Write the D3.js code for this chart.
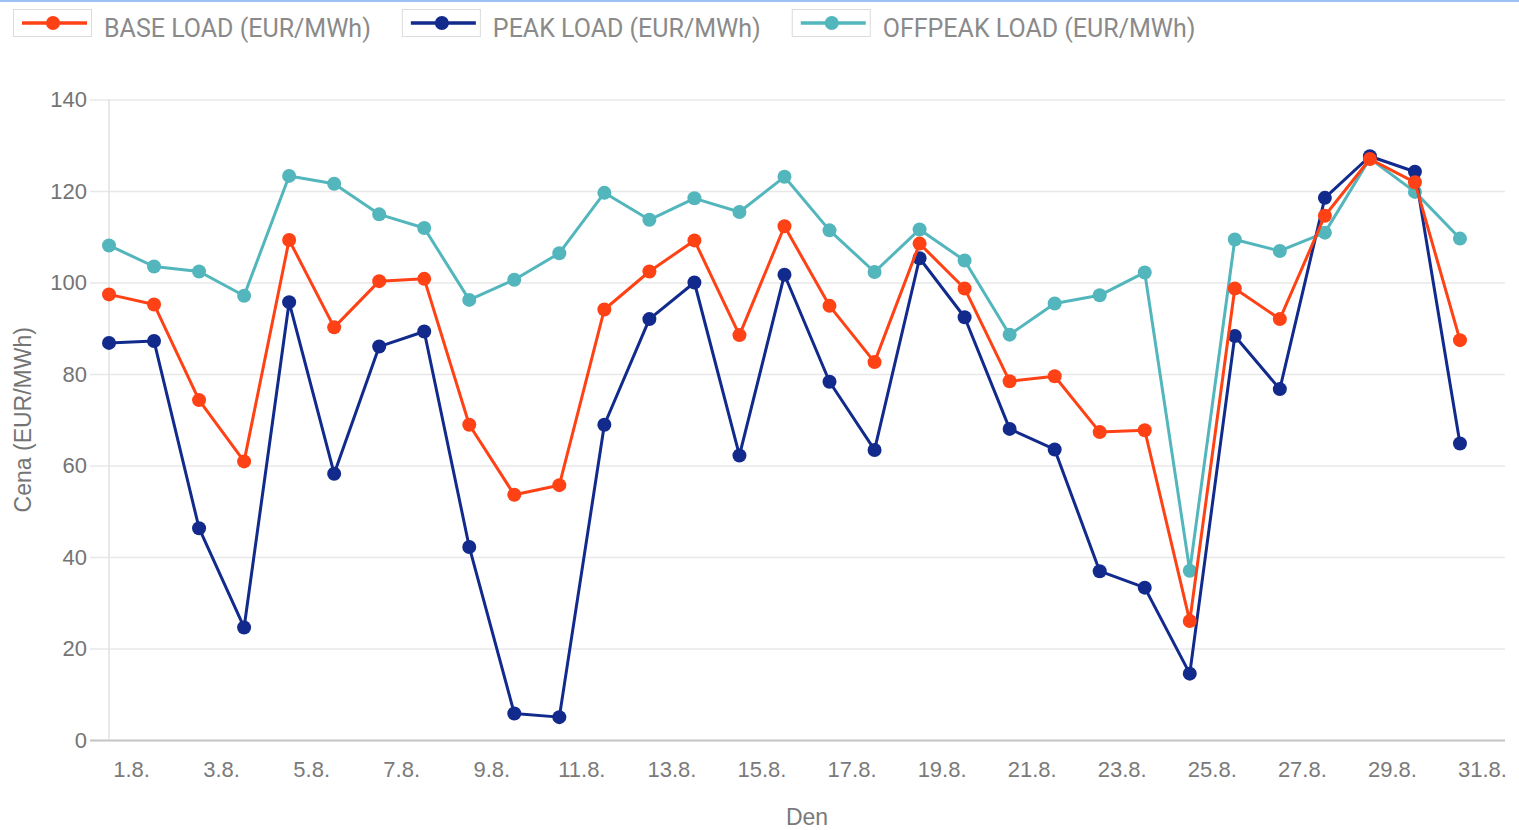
<!DOCTYPE html>
<html>
<head>
<meta charset="utf-8">
<script src="https://cdn.jsdelivr.net/npm/d3@7"></script>
<style>
  html, body { margin: 0; padding: 0; background: #fff; }
  svg { display: block; }
</style>
</head>
<body>
<svg id="chart" width="1519" height="830"></svg>
<script>
const days = ["1.8.","2.8.","3.8.","4.8.","5.8.","6.8.","7.8.","8.8.","9.8.","10.8.","11.8.","12.8.","13.8.","14.8.","15.8.","16.8.","17.8.","18.8.","19.8.","20.8.","21.8.","22.8.","23.8.","24.8.","25.8.","26.8.","27.8.","28.8.","29.8.","30.8.","31.8."];
const baseLoad = [97.4, 95.2, 74.3, 60.9, 109.3, 90.2, 100.3, 100.8, 68.9, 53.6, 55.7, 94.1, 102.4, 109.2, 88.5, 112.3, 94.9, 82.6, 108.5, 98.7, 78.4, 79.5, 67.3, 67.7, 26.0, 98.7, 92.0, 114.6, 127.0, 121.9, 87.4];
const peakLoad = [86.8, 87.2, 46.3, 24.6, 95.7, 58.2, 86.0, 89.3, 42.2, 5.8, 5.0, 68.9, 92.0, 100.0, 62.2, 101.7, 78.3, 63.4, 105.3, 92.4, 68.0, 63.5, 36.9, 33.3, 14.5, 88.3, 76.7, 118.5, 127.6, 124.2, 64.8];
const offpeakLoad = [108.1, 103.5, 102.4, 97.1, 123.3, 121.6, 114.9, 111.9, 96.2, 100.6, 106.4, 119.6, 113.7, 118.4, 115.4, 123.1, 111.4, 102.3, 111.6, 104.8, 88.6, 95.4, 97.2, 102.2, 37.0, 109.4, 106.9, 110.9, 127.1, 119.8, 109.6];
const seriesNames = ["BASE LOAD (EUR/MWh)", "PEAK LOAD (EUR/MWh)", "OFFPEAK LOAD (EUR/MWh)"];
const seriesColors = ["#ff4215", "#112a8c", "#52b6bc"];
const yTicks = [0, 20, 40, 60, 80, 100, 120, 140];
const xTickLabels = days.filter((d, i) => i % 2 === 0);
const yTitle = "Cena (EUR/MWh)";
const xTitle = "Den";

const series = [
  { name: seriesNames[0], color: seriesColors[0], values: baseLoad },
  { name: seriesNames[1], color: seriesColors[1], values: peakLoad },
  { name: seriesNames[2], color: seriesColors[2], values: offpeakLoad }
];

const svg = d3.select("#chart");
const plotLeft = 109, plotRight = 1505, plotTop = 99.5, plotBottom = 740;

const x = d3.scaleBand().domain(days).range([plotLeft, plotRight]).paddingInner(0).paddingOuter(0);
const y = d3.scaleLinear().domain([0, 140]).range([plotBottom, plotTop]);

// top border
svg.append("rect").attr("x", 0).attr("y", 0).attr("width", 1519).attr("height", 2).attr("fill", "#9cc2f5");

// y grid + labels
const gridLeft = 90;
const yAxis = svg.append("g")
  .attr("transform", `translate(${gridLeft},0)`)
  .call(d3.axisLeft(y).tickValues(yTicks).tickSize(-(plotRight - gridLeft)).tickPadding(3));
yAxis.select(".domain").remove();
yAxis.selectAll(".tick line")
  .attr("stroke", d => d === 0 ? "#c4c4c4" : "#e8e8e8")
  .attr("stroke-width", d => d === 0 ? 2 : 1.5);
yAxis.selectAll(".tick text")
  .attr("font-family", "'Liberation Sans', Arial, sans-serif")
  .attr("font-size", 22)
  .attr("fill", "#747474");

// left vertical line
svg.append("line")
  .attr("x1", plotLeft).attr("x2", plotLeft)
  .attr("y1", plotTop).attr("y2", plotBottom)
  .attr("stroke", "#e2e2e2").attr("stroke-width", 1.5);

// x labels
const xAxis = svg.append("g")
  .attr("transform", `translate(0,${plotBottom})`)
  .call(d3.axisBottom(x).tickValues(xTickLabels).tickSize(0).tickPadding(21));
xAxis.select(".domain").remove();
xAxis.selectAll(".tick text")
  .attr("font-family", "'Liberation Sans', Arial, sans-serif")
  .attr("font-size", 22)
  .attr("fill", "#7a7a7a");

// axis titles
svg.append("text")
  .attr("transform", `translate(31,${(plotTop + plotBottom) / 2}) rotate(-90)`)
  .attr("text-anchor", "middle")
  .attr("font-family", "'Liberation Sans', Arial, sans-serif")
  .attr("font-size", 23)
  .attr("fill", "#747474")
  .text(yTitle);
svg.append("text")
  .attr("x", 807).attr("y", 825)
  .attr("text-anchor", "middle")
  .attr("font-family", "'Liberation Sans', Arial, sans-serif")
  .attr("font-size", 23)
  .attr("fill", "#7a7a7a")
  .text(xTitle);

// lines (draw last series first so base is on top)
const line = d3.line().x((v, i) => x(days[i])).y(v => y(v));
const drawOrder = [2, 1, 0];
drawOrder.forEach(si => {
  const s = series[si];
  const g = svg.append("g");
  g.append("path")
    .attr("d", line(s.values))
    .attr("fill", "none")
    .attr("stroke", s.color)
    .attr("stroke-width", 3)
    .attr("stroke-linejoin", "round");
  g.selectAll("circle").data(s.values).join("circle")
    .attr("cx", (v, i) => x(days[i]))
    .attr("cy", v => y(v))
    .attr("r", 7)
    .attr("fill", s.color);
});

// legend
let lx = 13;
series.forEach(s => {
  const g = svg.append("g").attr("transform", `translate(${lx},0)`);
  g.append("rect").attr("x", 0.5).attr("y", 9.5).attr("width", 78).attr("height", 27)
    .attr("fill", "#fff").attr("stroke", "#dcdcdc").attr("stroke-width", 1);
  g.append("line").attr("x1", 9).attr("x2", 74).attr("y1", 23).attr("y2", 23)
    .attr("stroke", s.color).attr("stroke-width", 3.5);
  g.append("circle").attr("cx", 40).attr("cy", 23).attr("r", 7).attr("fill", s.color);
  const t = g.append("text").attr("x", 91).attr("y", 37)
    .attr("font-family", "Roboto, sans-serif")
    .attr("font-size", 25)
    .attr("fill", "#8a8a8a")
    .text(s.name);
  const w = t.node().getComputedTextLength();
  lx = lx + 91 + w + 31;
});
</script>
</body>
</html>
